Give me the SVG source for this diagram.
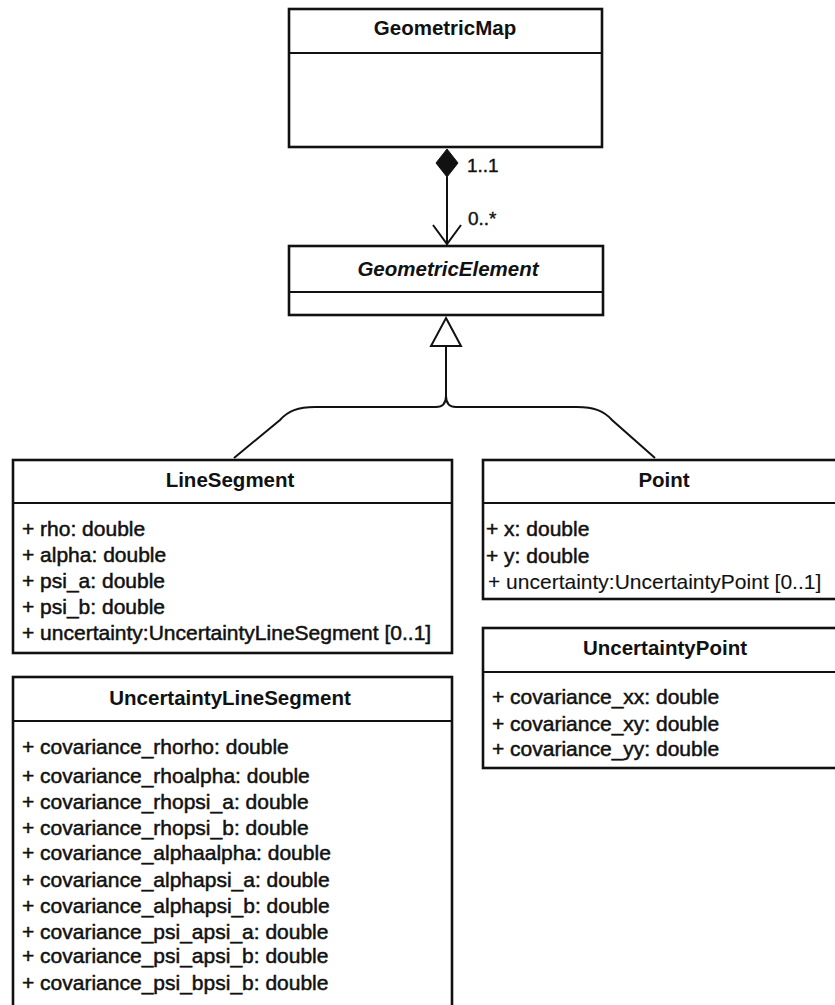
<svg xmlns="http://www.w3.org/2000/svg" width="835" height="1005" viewBox="0 0 835 1005">
<style>
.box{fill:#fff;stroke:#111;stroke-width:2.6}
.div{stroke:#111;stroke-width:2}
.title{font-family:"Liberation Sans",Arial,sans-serif;font-weight:bold;font-size:20.5px;fill:#111;text-anchor:middle}
.attr{font-family:"Liberation Sans",Arial,sans-serif;font-size:21px;fill:#111;stroke:#111;stroke-width:0.5}
.lbl{font-family:"Liberation Sans",Arial,sans-serif;font-size:19px;fill:#111;stroke:#111;stroke-width:0.4}
.conn{fill:none;stroke:#111;stroke-width:2}
</style>
<rect width="835" height="1005" fill="#fff"/>
<g id="connectors">
  <polygon points="447,149 458,163 447,177 436,163" fill="#111" stroke="#111" stroke-width="1"/>
  <line class="conn" x1="447" y1="177" x2="447" y2="245"/>
  <polyline class="conn" points="433,225 447,244 461,225"/>
  <text class="lbl" x="467" y="172">1..1</text>
  <text class="lbl" x="468" y="225">0..*</text>
  <polygon points="446,318 461,346 431,346" fill="#fff" stroke="#111" stroke-width="2"/>
  <path class="conn" d="M446,346 V396 Q446,407 436,407 H315 C298,407 288,411 280,420 L234,458"/>
  <path class="conn" d="M446,396 Q446,407 456,407 H577 C594,407 604,411 612,420 L655,458"/>
</g>
<g id="GeometricMap">
  <rect class="box" x="289" y="9" width="313" height="138"/>
  <line class="div" x1="289" y1="53" x2="602" y2="53"/>
  <text class="title" x="445" y="35">GeometricMap</text>
</g>
<g id="GeometricElement">
  <rect class="box" x="289" y="246" width="314" height="69"/>
  <line class="div" x1="289" y1="292" x2="603" y2="292"/>
  <text class="title" x="448" y="276" font-style="italic">GeometricElement</text>
</g>
<g id="LineSegment">
  <rect class="box" x="13" y="460" width="439" height="193"/>
  <line class="div" x1="13" y1="503" x2="452" y2="503"/>
  <text class="title" x="230" y="487">LineSegment</text>
  <text class="attr" x="22" y="536">+ rho: double</text>
  <text class="attr" x="22" y="562">+ alpha: double</text>
  <text class="attr" x="22" y="588">+ psi_a: double</text>
  <text class="attr" x="22" y="614">+ psi_b: double</text>
  <text class="attr" x="22" y="640">+ uncertainty:UncertaintyLineSegment [0..1]</text>
</g>
<g id="Point">
  <rect class="box" x="483" y="460" width="370" height="139"/>
  <line class="div" x1="483" y1="503" x2="853" y2="503"/>
  <text class="title" x="664" y="487">Point</text>
  <text class="attr" x="486" y="536">+ x: double</text>
  <text class="attr" x="486" y="563">+ y: double</text>
  <text class="attr" x="488" y="589" style="stroke-width:0.1">+ uncertainty:UncertaintyPoint [0..1]</text>
</g>
<g id="UncertaintyPoint">
  <rect class="box" x="483" y="628" width="370" height="140"/>
  <line class="div" x1="483" y1="672" x2="853" y2="672"/>
  <text class="title" x="665" y="655">UncertaintyPoint</text>
  <text class="attr" x="492" y="704">+ covariance_xx: double</text>
  <text class="attr" x="492" y="731">+ covariance_xy: double</text>
  <text class="attr" x="492" y="756">+ covariance_yy: double</text>
</g>
<g id="UncertaintyLineSegment">
  <rect class="box" x="13" y="677" width="439" height="340"/>
  <line class="div" x1="13" y1="721" x2="452" y2="721"/>
  <text class="title" x="230" y="705">UncertaintyLineSegment</text>
  <text class="attr" x="22" y="754">+ covariance_rhorho: double</text>
  <text class="attr" x="22" y="783">+ covariance_rhoalpha: double</text>
  <text class="attr" x="22" y="809">+ covariance_rhopsi_a: double</text>
  <text class="attr" x="22" y="835">+ covariance_rhopsi_b: double</text>
  <text class="attr" x="22" y="860">+ covariance_alphaalpha: double</text>
  <text class="attr" x="22" y="887">+ covariance_alphapsi_a: double</text>
  <text class="attr" x="22" y="913">+ covariance_alphapsi_b: double</text>
  <text class="attr" x="22" y="939">+ covariance_psi_apsi_a: double</text>
  <text class="attr" x="22" y="963">+ covariance_psi_apsi_b: double</text>
  <text class="attr" x="22" y="990">+ covariance_psi_bpsi_b: double</text>
</g>
</svg>
